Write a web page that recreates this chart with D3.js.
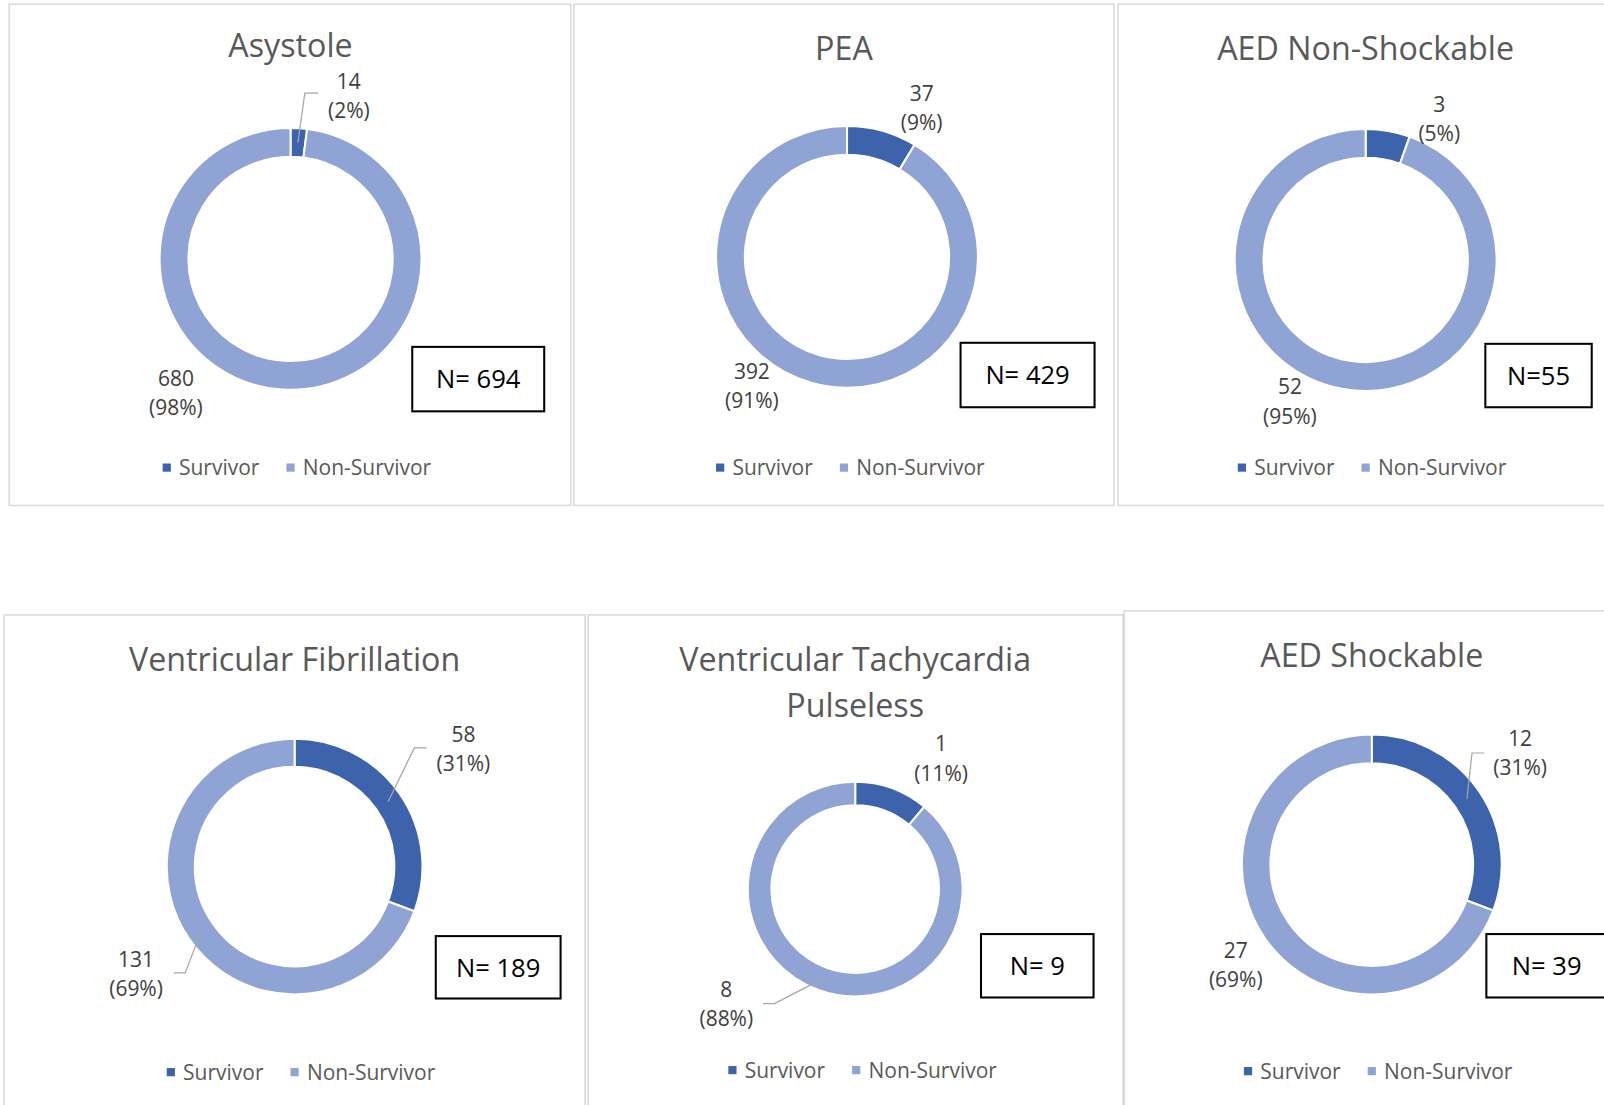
<!DOCTYPE html>
<html>
<head>
<meta charset="utf-8">
<script src="https://cdn.jsdelivr.net/npm/d3@7"></script>
<style>
  html, body { margin: 0; padding: 0; background: #ffffff; overflow: hidden; }
  text { font-family: "Open Sans", "Noto Sans", sans-serif; }
</style>
</head>
<body>
<svg id="chart" width="1604" height="1105" viewBox="0 0 1568 1080"></svg>
<script>
// ---------------- DATA ----------------
const chartTitles = [
  ["Asystole"],
  ["PEA"],
  ["AED Non-Shockable"],
  ["Ventricular Fibrillation"],
  ["Ventricular Tachycardia", "Pulseless"],
  ["AED Shockable"]
];
const seriesNames = ["Survivor", "Non-Survivor"];
const survivorCounts = [14, 37, 3, 58, 1, 12];
const nonSurvivorCounts = [680, 392, 52, 131, 8, 27];
const survivorPctLabels = ["(2%)", "(9%)", "(5%)", "(31%)", "(11%)", "(31%)"];
const nonSurvivorPctLabels = ["(98%)", "(91%)", "(95%)", "(69%)", "(88%)", "(69%)"];
const totalLabels = ["N= 694", "N= 429", "N=55", "N= 189", "N= 9", "N= 39"];
const seriesColors = ["#3C63AC", "#8FA4D4"];

// ---------------- LAYOUT (positions only) ----------------
const panels = [
  { box: [9, 4, 549, 490], title: [284, 56], c: [284, 253], r: 128,
    nbox: [403, 339, 129, 63],
    lab: [[341, 79], [172, 370]],
    leader: [[[311, 91], [298, 91]], null],
    legY: 457, leg: [162, 283] },
  { box: [561, 4, 528, 490], title: [825, 59], c: [828, 251], r: 128,
    nbox: [939, 335, 131, 63],
    lab: [[901, 91], [735, 363]],
    leader: [null, null],
    legY: 457, leg: [703, 824] },
  { box: [1093, 4, 520, 490], title: [1335, 59], c: [1335, 254], r: 128,
    nbox: [1452, 336, 104, 62],
    lab: [[1407, 102], [1261, 378]],
    leader: [null, null],
    legY: 457, leg: [1213, 1334] },
  { box: [4, 601, 568, 520], title: [288, 656], c: [288, 847], r: 125,
    nbox: [426, 915, 122, 61],
    lab: [[453, 718], [133, 938]],
    leader: [[[417, 731], [405, 731]], [[170, 951], [181, 951]]],
    legY: 1048, leg: [166, 287] },
  { box: [575, 601, 523, 520], title: [836, 656], c: [836, 869], r: 105,
    nbox: [959, 913, 110, 62],
    lab: [[920, 727], [710, 967]],
    leader: [null, [[746, 981], [757, 981]]],
    legY: 1046, leg: [715, 836] },
  { box: [1099, 597, 520, 520], title: [1341, 652], c: [1341, 845], r: 127,
    nbox: [1453, 913, 130, 62],
    lab: [[1486, 722], [1208, 929]],
    leader: [[[1451, 736], [1439, 736]], null],
    legY: 1047, leg: [1219, 1340] }
];

const svg = d3.select("#chart");
const pie = d3.pie().sort(null).value(d => d.value).startAngle(0).endAngle(2 * Math.PI);

panels.forEach((p, i) => {
  const g = svg.append("g");
  // panel border
  g.append("rect")
    .attr("x", p.box[0]).attr("y", p.box[1])
    .attr("width", p.box[2]).attr("height", p.box[3])
    .attr("fill", "#ffffff").attr("stroke", "#d9d9d9").attr("stroke-width", 1.5);

  // title
  const t = g.append("text")
    .attr("x", p.title[0]).attr("y", p.title[1])
    .attr("text-anchor", "middle")
    .attr("font-size", 31.5).attr("fill", "#595959");
  chartTitles[i].forEach((line, k) => {
    t.append("tspan").attr("x", p.title[0]).attr("dy", k === 0 ? 0 : 45).text(line);
  });

  const data = [
    { name: seriesNames[0], value: survivorCounts[i], pct: survivorPctLabels[i] },
    { name: seriesNames[1], value: nonSurvivorCounts[i], pct: nonSurvivorPctLabels[i] }
  ];
  const arcs = pie(data);
  const arc = d3.arc().innerRadius(p.r * 0.78).outerRadius(p.r);
  const colour = d3.scaleOrdinal().domain(seriesNames).range(seriesColors);

  const dg = g.append("g").attr("transform", `translate(${p.c[0]},${p.c[1]})`);
  dg.selectAll("path").data(arcs).enter().append("path")
    .attr("d", arc)
    .attr("fill", d => colour(d.data.name))
    .attr("stroke", "#ffffff").attr("stroke-width", 2);

  // leader lines
  arcs.forEach((a, k) => {
    const ld = p.leader[k];
    if (!ld) return;
    const cen = arc.centroid(a);
    const pts = [ld[0], ld[1], [p.c[0] + cen[0], p.c[1] + cen[1]]];
    g.append("path")
      .attr("d", d3.line()(pts))
      .attr("fill", "none").attr("stroke", "#a6a6a6").attr("stroke-width", 1.2);
  });

  // data labels
  arcs.forEach((a, k) => {
    const [lx, ly] = p.lab[k];
    const txt = g.append("text")
      .attr("text-anchor", "middle")
      .attr("font-size", 20.5).attr("fill", "#404040");
    txt.append("tspan").attr("x", lx).attr("y", ly + 7.5).text(a.data.value);
    txt.append("tspan").attr("x", lx).attr("y", ly + 36).text(a.data.pct);
  });

  // N box
  g.append("rect")
    .attr("x", p.nbox[0]).attr("y", p.nbox[1])
    .attr("width", p.nbox[2]).attr("height", p.nbox[3])
    .attr("fill", "#ffffff").attr("stroke", "#000000").attr("stroke-width", 2);
  g.append("text")
    .attr("x", p.nbox[0] + (i === 5 ? 59 : p.nbox[2] / 2))
    .attr("y", p.nbox[1] + p.nbox[3] / 2 + 9)
    .attr("text-anchor", "middle")
    .attr("font-size", 25).attr("fill", "#000000")
    .text(totalLabels[i]);

  // legend
  seriesNames.forEach((s, k) => {
    g.append("rect")
      .attr("x", p.leg[k] - 3).attr("y", p.legY - 4)
      .attr("width", 8).attr("height", 8)
      .attr("fill", colour(s));
    g.append("text")
      .attr("x", p.leg[k] + 13).attr("y", p.legY + 7.5)
      .attr("font-size", 20.5).attr("fill", "#595959")
      .text(s);
  });
});
</script>
</body>
</html>
